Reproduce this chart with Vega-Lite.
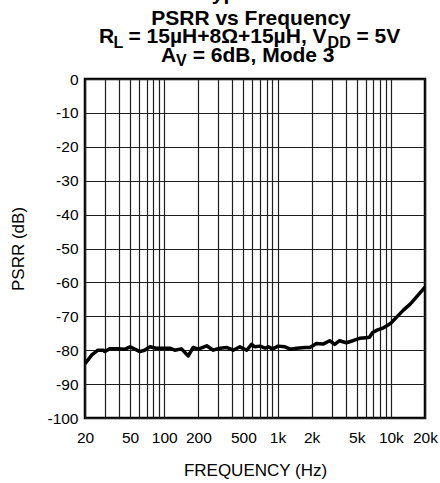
{
  "$schema": "https://vega.github.io/schema/vega-lite/v6.json",
  "width": 340,
  "height": 339,
  "autosize": {"type": "none"},
  "padding": {"left": 85, "top": 79, "right": 15, "bottom": 65},
  "background": "white",
  "config": {
    "font": "Liberation Sans",
    "view": {"stroke": "black", "strokeWidth": 2.5},
    "axis": {
      "grid": true,
      "gridColor": "#1e1e1e",
      "gridOpacity": 1,
      "gridWidth": 1.2,
      "domain": false,
      "ticks": false,
      "labelColor": "black",
      "titleColor": "black",
      "labelFont": "Liberation Sans",
      "titleFont": "Liberation Sans",
      "labelFontSize": 15.5,
      "titleFontSize": 17,
      "titleFontWeight": "normal",
      "labelOverlap": false,
      "labelFlush": false,
      "labelBound": false
    }
  },
  "layer": [
    {
      "data": {
        "values": [
          {"freq": 20, "psrr": -84},
          {"freq": 23, "psrr": -81.4},
          {"freq": 26, "psrr": -80},
          {"freq": 29, "psrr": -80},
          {"freq": 30, "psrr": -80.4},
          {"freq": 33, "psrr": -79.6},
          {"freq": 39, "psrr": -79.6},
          {"freq": 45, "psrr": -79.7},
          {"freq": 50, "psrr": -79},
          {"freq": 55, "psrr": -79.7},
          {"freq": 61, "psrr": -80.4},
          {"freq": 67, "psrr": -80},
          {"freq": 75, "psrr": -79},
          {"freq": 85, "psrr": -79.4},
          {"freq": 98, "psrr": -79.4},
          {"freq": 112, "psrr": -79.4},
          {"freq": 124, "psrr": -80},
          {"freq": 142, "psrr": -79.6},
          {"freq": 163, "psrr": -81.7},
          {"freq": 180, "psrr": -79.2},
          {"freq": 200, "psrr": -79.7},
          {"freq": 237, "psrr": -78.7},
          {"freq": 271, "psrr": -80},
          {"freq": 310, "psrr": -79.4},
          {"freq": 355, "psrr": -79.2},
          {"freq": 406, "psrr": -80},
          {"freq": 465, "psrr": -79},
          {"freq": 535, "psrr": -80},
          {"freq": 590, "psrr": -78.3},
          {"freq": 630, "psrr": -79},
          {"freq": 700, "psrr": -78.8},
          {"freq": 777, "psrr": -79.4},
          {"freq": 830, "psrr": -79},
          {"freq": 903, "psrr": -79.6},
          {"freq": 1013, "psrr": -78.8},
          {"freq": 1160, "psrr": -79},
          {"freq": 1290, "psrr": -79.7},
          {"freq": 1476, "psrr": -79.4},
          {"freq": 1745, "psrr": -79.2},
          {"freq": 1930, "psrr": -79.2},
          {"freq": 2205, "psrr": -78},
          {"freq": 2520, "psrr": -78.2},
          {"freq": 2880, "psrr": -77.2},
          {"freq": 3190, "psrr": -78.3},
          {"freq": 3530, "psrr": -77.2},
          {"freq": 4040, "psrr": -77.8},
          {"freq": 4620, "psrr": -77.2},
          {"freq": 5290, "psrr": -76.5},
          {"freq": 6060, "psrr": -76.3},
          {"freq": 6470, "psrr": -76.2},
          {"freq": 6900, "psrr": -74.8},
          {"freq": 7650, "psrr": -74},
          {"freq": 8470, "psrr": -73.5},
          {"freq": 9920, "psrr": -72.1},
          {"freq": 11350, "psrr": -70.1},
          {"freq": 12970, "psrr": -68.1},
          {"freq": 14800, "psrr": -66.4},
          {"freq": 16920, "psrr": -64.2},
          {"freq": 20000, "psrr": -61.4}
        ]
      },
      "mark": {"type": "line", "color": "black", "strokeWidth": 3.5, "strokeJoin": "round", "clip": true},
      "encoding": {
        "x": {
          "field": "freq",
          "type": "quantitative",
          "scale": {"type": "log", "domain": [20, 20000], "nice": false},
          "axis": {
            "title": "FREQUENCY (Hz)",
            "values": [20, 30, 40, 50, 60, 70, 80, 90, 100, 200, 300, 400, 500, 600, 700, 800, 900, 1000, 2000, 3000, 4000, 5000, 6000, 7000, 8000, 9000, 10000, 20000],
            "labelExpr": "indexof([20, 50, 100, 200, 500], datum.value) >= 0 ? '' + datum.value : (indexof([1000, 2000, 5000, 10000, 20000], datum.value) >= 0 ? (datum.value / 1000) + 'k' : '')",
            "labelPadding": 12,
            "titlePadding": 17
          }
        },
        "y": {
          "field": "psrr",
          "type": "quantitative",
          "scale": {"domain": [-100, 0], "nice": false},
          "axis": {
            "title": "PSRR (dB)",
            "values": [-100, -90, -80, -70, -60, -50, -40, -30, -20, -10, 0],
            "labelExpr": "'' + datum.value",
            "labelPadding": 7,
            "titlePadding": 19
          }
        }
      }
    },
    {
      "data": {"values": [{}]},
      "mark": {"type": "text", "text": "Typical", "x": 151, "y": -79, "align": "center", "baseline": "alphabetic", "fontSize": 21, "fontWeight": "bold", "font": "Liberation Sans", "color": "black"},
      "encoding": {}
    },
    {
      "data": {"values": [{}]},
      "mark": {"type": "text", "text": "PSRR vs Frequency", "x": 166, "y": -54, "align": "center", "baseline": "alphabetic", "fontSize": 21, "fontWeight": "bold", "font": "Liberation Sans", "color": "black"},
      "encoding": {}
    },
    {
      "data": {"values": [{}]},
      "mark": {"type": "text", "text": "R", "x": 14, "y": -36, "align": "left", "baseline": "alphabetic", "fontSize": 21, "fontWeight": "bold", "font": "Liberation Sans", "color": "black"},
      "encoding": {}
    },
    {
      "data": {"values": [{}]},
      "mark": {"type": "text", "text": "L", "x": 28.5, "y": -31, "align": "left", "baseline": "alphabetic", "fontSize": 16, "fontWeight": "bold", "font": "Liberation Sans", "color": "black"},
      "encoding": {}
    },
    {
      "data": {"values": [{}]},
      "mark": {"type": "text", "text": "= 15µH+8Ω+15µH, V", "x": 43.5, "y": -36, "align": "left", "baseline": "alphabetic", "fontSize": 21, "fontWeight": "bold", "font": "Liberation Sans", "color": "black"},
      "encoding": {}
    },
    {
      "data": {"values": [{}]},
      "mark": {"type": "text", "text": "DD", "x": 242.6, "y": -31, "align": "left", "baseline": "alphabetic", "fontSize": 16, "fontWeight": "bold", "font": "Liberation Sans", "color": "black"},
      "encoding": {}
    },
    {
      "data": {"values": [{}]},
      "mark": {"type": "text", "text": "= 5V", "x": 271.5, "y": -36, "align": "left", "baseline": "alphabetic", "fontSize": 21, "fontWeight": "bold", "font": "Liberation Sans", "color": "black"},
      "encoding": {}
    },
    {
      "data": {"values": [{}]},
      "mark": {"type": "text", "text": "A", "x": 76, "y": -17.5, "align": "left", "baseline": "alphabetic", "fontSize": 21, "fontWeight": "bold", "font": "Liberation Sans", "color": "black"},
      "encoding": {}
    },
    {
      "data": {"values": [{}]},
      "mark": {"type": "text", "text": "V", "x": 91, "y": -13, "align": "left", "baseline": "alphabetic", "fontSize": 16, "fontWeight": "bold", "font": "Liberation Sans", "color": "black"},
      "encoding": {}
    },
    {
      "data": {"values": [{}]},
      "mark": {"type": "text", "text": "= 6dB, Mode 3", "x": 107.7, "y": -17.5, "align": "left", "baseline": "alphabetic", "fontSize": 21, "fontWeight": "bold", "font": "Liberation Sans", "color": "black"},
      "encoding": {}
    }
  ]
}
